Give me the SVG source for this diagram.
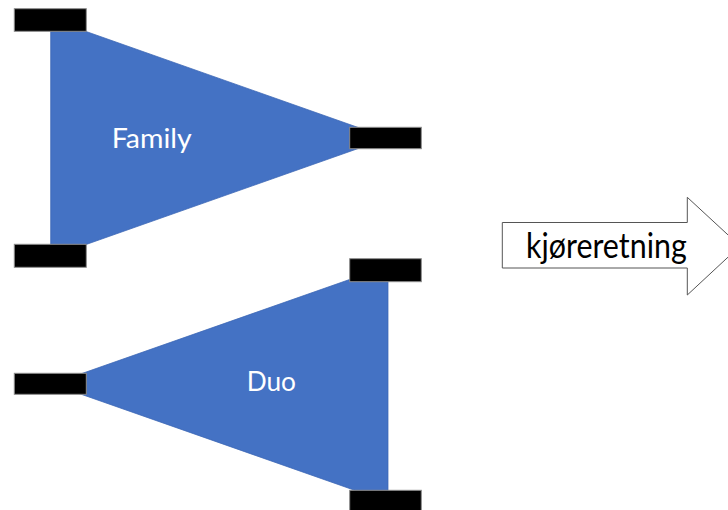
<svg xmlns="http://www.w3.org/2000/svg" width="728" height="510" viewBox="0 0 728 510">
  <style>
    .tri { fill: #4472C4; stroke: #3B66B4; stroke-width: 0.75; }
    .wheel { fill: #000000; stroke: #8C8C8C; stroke-width: 1; }
    .label { font-family: Lato, "Open Sans", "Liberation Sans", sans-serif; font-size: 27px; fill: #FFFFFF; }
    .dir { font-family: Lato, "Open Sans", "Liberation Sans", sans-serif; font-size: 34px; fill: #000000; }
    .arrow { fill: #FFFFFF; stroke: #555555; stroke-width: 1; }
  </style>
  <rect width="728" height="510" fill="#FFFFFF"/>

  <!-- Family: base on the left, point to the right -->
  <g id="family">
    <polygon class="tri" points="50.7,19 50.7,257 388,138"/>
    <rect class="wheel" x="14.3" y="8.7" width="72" height="22.6"/>
    <rect class="wheel" x="14.3" y="244.3" width="72" height="23"/>
    <rect class="wheel" x="349.7" y="127.3" width="71.6" height="21.4"/>
    <text class="label" x="111.7" y="147.7" textLength="80" lengthAdjust="spacingAndGlyphs">Family</text>
  </g>

  <!-- Duo: point on the left, base on the right -->
  <g id="duo">
    <polygon class="tri" points="388,266 388,502 52,384"/>
    <rect class="wheel" x="349.7" y="258.7" width="71.6" height="23"/>
    <rect class="wheel" x="14.3" y="373.3" width="72" height="21"/>
    <rect class="wheel" x="349.7" y="490.3" width="71.6" height="22"/>
    <text class="label" x="246.7" y="391" textLength="49.3" lengthAdjust="spacingAndGlyphs">Duo</text>
  </g>

  <!-- Driving direction block arrow -->
  <g id="direction">
    <polygon class="arrow" points="502.3,222.5 687.3,222.5 687.3,197.3 740,246 687.3,295 687.3,268 502.3,268"/>
    <text class="dir" x="526" y="257.7" textLength="160.7" lengthAdjust="spacingAndGlyphs">kjøreretning</text>
  </g>

  <g id="connectors"/>
</svg>
